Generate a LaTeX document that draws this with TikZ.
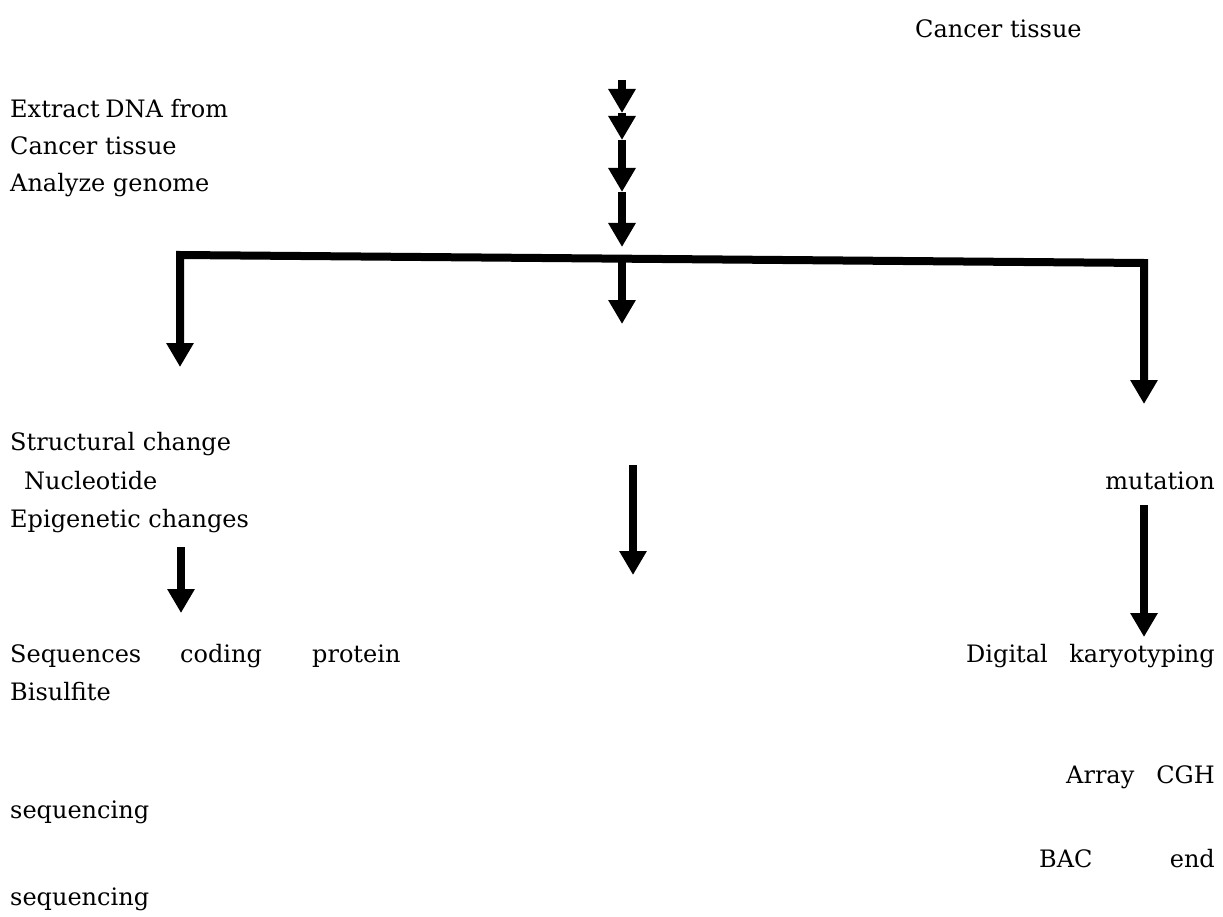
\documentclass[tikz,border=0pt]{standalone}
\usepackage{fontspec}
\setmainfont{DejaVu Serif}
\usetikzlibrary{arrows.meta}
\begin{document}
\begin{tikzpicture}[x=1pt,y=-1pt,
  arr/.style={line width=8pt,-{Triangle[width=26pt,length=24pt]}},
  bar/.style={line width=8pt},
  lbl/.style={inner sep=0pt,font=\fontsize{24}{28}\selectfont},
  lw/.style={lbl,anchor=base west},
  le/.style={lbl,anchor=base east}]
\useasboundingbox (0,0) rectangle (1223,917);
% texts
\node[lw] (top) at (915,38) {Cancer tissue};
\node[lw] (t1) at (10,118) {Extract\hspace{-2pt} DNA from};
\node[lw] (t2) at (10,155) {Cancer tissue};
\node[lw] (t3) at (10,192) {Analyze genome};
\node[lw] (s1) at (10,450) {Structural change};
\node[lw] (s2) at (24,489) {Nucleotide};
\node[lw] (s3) at (10,527) {Epigenetic changes};
\node[le] (mu) at (1215,489) {mutation};
\node[lw] (q1) at (10,662) {Sequences};
\node[lw] (q2) at (180,662) {coding};
\node[lw] (q3) at (312,662) {protein};
\node[lw] (dg) at (966,662) {Digital};
\node[le] (ka) at (1215,662) {karyotyping};
\node[lw] (bi) at (10,700) {Bisulfite};
\node[lw] (ar) at (1066,783) {Array};
\node[le] (cg) at (1215,783) {CGH};
\node[lw] (sq1) at (10,818) {sequencing};
\node[lw] (ba) at (1039,867) {BAC};
\node[le] (en) at (1215,867) {end};
\node[lw] (sq2) at (10,905) {sequencing};
% coordinates
\coordinate (c0) at (622,80);
\coordinate (c1) at (622,113);
\coordinate (c2) at (622,140);
\coordinate (c3) at (622,192);
\coordinate (c4) at (622,247);
\coordinate (hl) at (180,255);
\coordinate (hr) at (1144,263);
\coordinate (hm) at (622,259);
\coordinate (lt) at (180,367);
\coordinate (rt) at (1144,404);
\coordinate (mt) at (622,324);
\coordinate (m2a) at (633,465);
\coordinate (m2b) at (633,575);
\coordinate (l2a) at (181,547);
\coordinate (l2b) at (181,613);
\coordinate (r2a) at (1144,505);
\coordinate (r2b) at (1144,637);
% arrows
\draw[arr] (c0) -- (c1);
\draw[arr] (c1) -- (c2);
\draw[arr] (c2) -- (c3);
\draw[arr] (c3) -- (c4);
\draw[bar,{Triangle[width=26pt,length=24pt]}-{Triangle[width=26pt,length=24pt]}] (lt) -- (hl) -- (hr) -- (rt);
\draw[arr] (hm) -- (mt);
\draw[arr] (m2a) -- (m2b);
\draw[arr] (l2a) -- (l2b);
\draw[arr] (r2a) -- (r2b);
\end{tikzpicture}
\end{document}
